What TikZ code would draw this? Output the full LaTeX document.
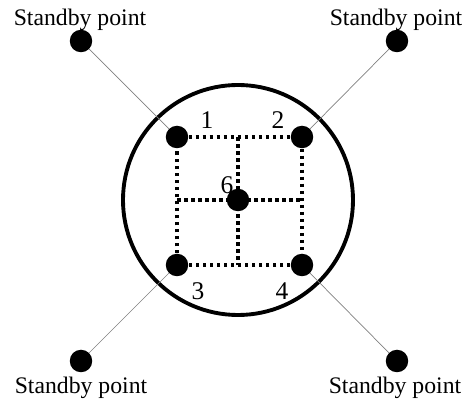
\documentclass[tikz,border=0pt]{standalone}
\usepackage{fontspec}
\setmainfont{Liberation Serif}
\usepackage{tikz}

\begin{document}
\begin{tikzpicture}[x=0.02cm,y=-0.02cm,
  dot/.style={circle,fill=black,inner sep=0pt,minimum size=0.45cm},
  lbl/.style={font=\fontsize{13.5}{15}\selectfont},
  num/.style={font=\fontsize{14.5}{16}\selectfont},
  grid/.style={line width=2pt,dash pattern=on 2pt off 2pt},
  link/.style={gray,line width=0.4pt}]
			\useasboundingbox (0,0) rectangle (464,405);
			\node[dot] (p1) at (177,137) {};
			\node[dot] (p2) at (302,137) {};
			\node[dot] (p3) at (177,265) {};
			\node[dot] (p4) at (302,265) {};
			\node[dot] (p6) at (238,200) {};
			\coordinate (t12) at (238,137);
			\coordinate (t34) at (238,265);
			\coordinate (l13) at (177,200);
			\coordinate (r24) at (302,200);
			\draw[grid] (p1) -- (p2) -- (p4) -- (p3) -- (p1);
			\draw[grid] (t12) -- (t34);
			\draw[grid] (l13) -- (r24);
			\draw[line width=2.2pt] (238,200) circle (115);
			\node[dot] (s1) at (81,41) {};
			\node[dot] (s2) at (397,41) {};
			\node[dot] (s3) at (81,361) {};
			\node[dot] (s4) at (397,361) {};
			\draw[link] (s1) -- (p1);
			\draw[link] (s2) -- (p2);
			\draw[link] (s3) -- (p3);
			\draw[link] (s4) -- (p4);
			\node[num] (n1) at (207,120) {1};
			\node[num] (n2) at (278,120) {2};
			\node[num] (n6) at (227,185) {6};
			\node[num] (n3) at (198,291) {3};
			\node[num] (n4) at (282,291) {4};
			\node[lbl] (a1) at (80,20) {Standby point};
			\node[lbl] (a2) at (396,20) {Standby point};
			\node[lbl] (a3) at (81,388) {Standby point};
			\node[lbl] (a4) at (395,388) {Standby point};
\end{tikzpicture}
\end{document}
